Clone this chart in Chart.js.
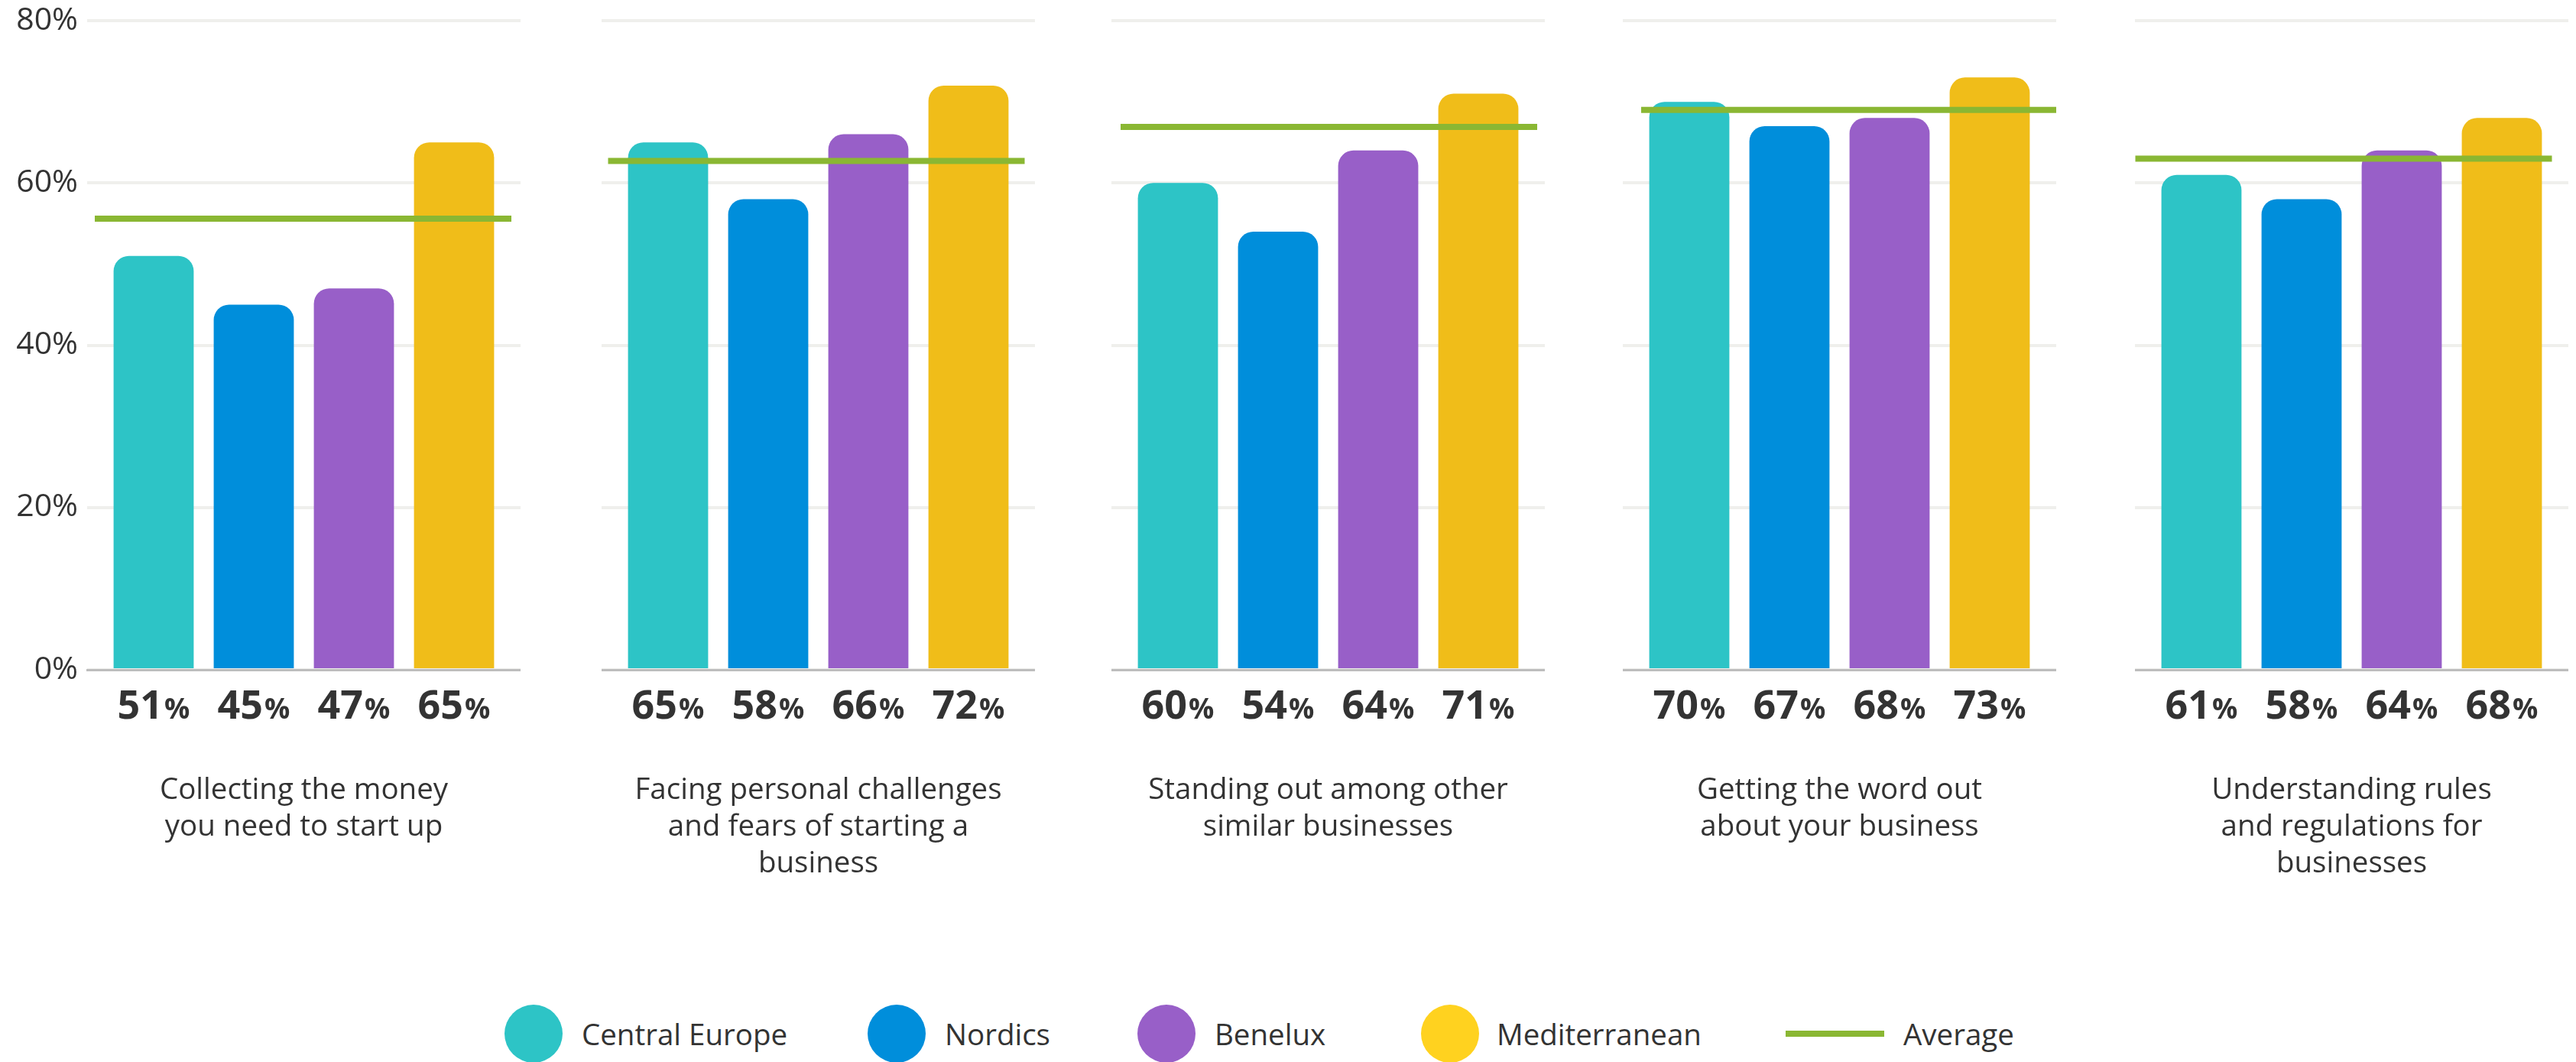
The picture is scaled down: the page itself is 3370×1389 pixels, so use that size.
<!DOCTYPE html>
<html>
<head>
<meta charset="utf-8">
<script src="https://cdn.jsdelivr.net/npm/chart.js@4.4.1/dist/chart.umd.min.js"></script>
<style>
  html, body { margin: 0; padding: 0; background: #fff; }
  #wrap { position: relative; width: 3370px; height: 1389px; overflow: hidden;
          font-family: "Open Sans", sans-serif; color: #333; }
  .panel { position: absolute; top: 0; }
  .lg-dot { position: absolute; width: 76px; height: 76px; border-radius: 50%; top: 1314px; }
  .lg-line { position: absolute; height: 8px; top: 1348px; }
  .lg-text { position: absolute; top: 1352px; transform: translateY(-50%);
             font-size: 38.5px; line-height: 1; white-space: nowrap; color: #333; }
</style>
</head>
<body>
<div id="wrap"></div>
<script>
// ---- data ----
const categories = [
  ['Collecting the money', 'you need to start up'],
  ['Facing personal challenges', 'and fears of starting a', 'business'],
  ['Standing out among other', 'similar businesses'],
  ['Getting the word out', 'about your business'],
  ['Understanding rules', 'and regulations for', 'businesses']
];
const regions = ['Central Europe', 'Nordics', 'Benelux', 'Mediterranean'];
const centralEurope = [51, 65, 60, 70, 61];
const nordics       = [45, 58, 54, 67, 58];
const benelux       = [47, 66, 64, 68, 64];
const mediterranean = [65, 72, 71, 73, 68];
const average       = [55.6, 62.7, 66.9, 69.0, 63.0];
const yTicks = [0, 20, 40, 60, 80];

// ---- styling ----
const barColors    = ['#2DC4C6', '#008EDB', '#985FC8', '#F0BD19'];
const legendColors = ['#2DC4C6', '#008EDB', '#985FC8', '#FFD21F'];
const avgColor = '#8AB733';
const textColor = '#333333';
const FONT = '"Open Sans", sans-serif';

// ---- panel geometry (px) ----
const panelLeft = [0, 787, 1454, 2123, 2793];
const axisWidth = [114, 0, 0, 0, 0];
const plotWidth = 567;
const barPitch = 131;          // distance between neighbouring bar centres
const canvasH = 1260;
const plotTop = 27;
const plotBottom = 876;
const titleFirstLineY = 1034;  // middle of the first line of the group title
const titleLineH = 48;
// horizontal shift of the average line inside each panel (px)
const avgShift = [-1, -2.5, 1, 13, -10.5];
const avgHalfSpan = 272.5;

const seriesValues = [centralEurope, nordics, benelux, mediterranean];
const mid = (regions.length - 1) / 2;
const halfRange = plotWidth / (2 * barPitch);

// bold value labels under each bar, with a smaller percent sign
const valueLabels = {
  id: 'valueLabels',
  afterDraw(chart) {
    const ctx = chart.ctx;
    const yBase = chart.chartArea.bottom + 64;
    const ds = chart.data.datasets[0];
    const meta = chart.getDatasetMeta(0);
    meta.data.forEach((bar, j) => {
      const num = String(ds.data[j].y);
      ctx.save();
      ctx.fillStyle = textColor;
      ctx.textBaseline = 'alphabetic';
      ctx.textAlign = 'left';
      ctx.font = '700 52px ' + FONT;
      const w1 = ctx.measureText(num).width;
      ctx.font = '700 37px ' + FONT;
      const w2 = ctx.measureText('%').width;
      const x0 = bar.x - (w1 + w2 + 2) / 2;
      ctx.font = '700 52px ' + FONT;
      ctx.fillText(num, x0, yBase);
      ctx.font = '700 37px ' + FONT;
      ctx.fillText('%', x0 + w1 + 2, yBase);
      ctx.restore();
    });
  }
};

const wrap = document.getElementById('wrap');

categories.forEach((cat, p) => {
  const canvas = document.createElement('canvas');
  canvas.className = 'panel';
  const w = axisWidth[p] + plotWidth;
  canvas.width = w;
  canvas.height = canvasH;
  canvas.style.left = panelLeft[p] + 'px';
  canvas.style.width = w + 'px';
  canvas.style.height = canvasH + 'px';
  wrap.appendChild(canvas);

  const barData = regions.map((name, s) => ({ x: s, y: seriesValues[s][p] }));
  const a0 = mid + (avgShift[p] - avgHalfSpan) / barPitch;
  const a1 = mid + (avgShift[p] + avgHalfSpan) / barPitch;

  // title is anchored from the axis bottom; keep the first line at a fixed height
  const titlePadBottom = (canvasH - titleFirstLineY) - titleLineH / 2 - titleLineH * (cat.length - 1);

  new Chart(canvas, {
    type: 'bar',
    data: {
      datasets: [
        {
          type: 'bar',
          label: cat.join(' '),
          data: barData,
          backgroundColor: barColors,
          borderWidth: 0,
          borderSkipped: 'bottom',
          borderRadius: { topLeft: 20, topRight: 20, bottomLeft: 0, bottomRight: 0 },
          categoryPercentage: 1,
          barPercentage: 0.8,
          order: 1
        },
        {
          type: 'line',
          label: 'Average',
          data: [{ x: a0, y: average[p] }, { x: a1, y: average[p] }],
          borderColor: avgColor,
          borderWidth: 8,
          borderCapStyle: 'butt',
          pointRadius: 0,
          fill: false,
          order: 0
        }
      ]
    },
    plugins: [valueLabels],
    options: {
      responsive: false,
      animation: false,
      devicePixelRatio: 1,
      layout: { autoPadding: false, padding: { top: plotTop, right: 0, bottom: 0, left: 0 } },
      plugins: { legend: { display: false }, tooltip: { enabled: false } },
      scales: {
        x: {
          type: 'linear',
          offset: false,
          min: mid - halfRange,
          max: mid + halfRange,
          afterBuildTicks: (s) => { s.ticks = regions.map((r, i) => ({ value: i })); },
          grid: { display: false, drawTicks: false },
          border: { display: true, color: '#BDBDBD', width: 3 },
          ticks: { display: false },
          title: {
            display: true,
            text: cat,
            color: textColor,
            font: { family: FONT, size: 38.5, lineHeight: titleLineH / 38.5 },
            padding: { top: 0, bottom: titlePadBottom }
          },
          afterFit: (s) => { s.height = canvasH - plotBottom; s.paddingLeft = 0; s.paddingRight = 0; }
        },
        y: {
          min: yTicks[0],
          max: yTicks[yTicks.length - 1],
          afterBuildTicks: (s) => { s.ticks = yTicks.map(v => ({ value: v })); },
          grid: { color: '#EFEFEC', lineWidth: 4, drawTicks: false },
          border: { display: false },
          ticks: {
            display: p === 0,
            color: textColor,
            font: { family: FONT, size: 41 },
            padding: 12,
            callback: (v) => v + '%'
          },
          afterFit: (s) => { s.width = axisWidth[p]; s.paddingTop = 0; s.paddingBottom = 0; }
        }
      }
    }
  });
});

// legend
const dotLeft = [660, 1135, 1488, 1859];
const textLeft = [761, 1236, 1589, 1958];
regions.forEach((name, i) => {
  const d = document.createElement('div');
  d.className = 'lg-dot';
  d.style.left = dotLeft[i] + 'px';
  d.style.background = legendColors[i];
  wrap.appendChild(d);
  const t = document.createElement('div');
  t.className = 'lg-text';
  t.style.left = textLeft[i] + 'px';
  t.textContent = name;
  wrap.appendChild(t);
});
const ln = document.createElement('div');
ln.className = 'lg-line';
ln.style.left = '2336px';
ln.style.width = '129px';
ln.style.background = avgColor;
wrap.appendChild(ln);
const lt = document.createElement('div');
lt.className = 'lg-text';
lt.style.left = '2490px';
lt.textContent = 'Average';
wrap.appendChild(lt);
</script>
</body>
</html>
